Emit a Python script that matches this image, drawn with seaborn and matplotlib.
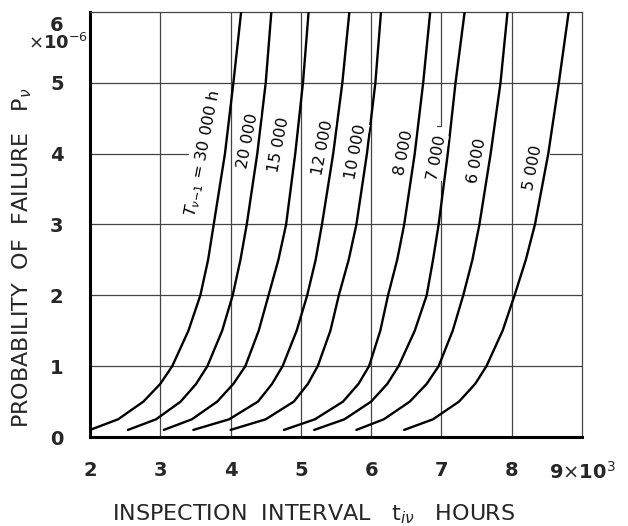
import matplotlib
matplotlib.use("Agg")
import matplotlib.pyplot as plt
import matplotlib.transforms as mtransforms
import seaborn as sns
import pandas as pd

# Probability of failure levels (x 1e-6) at which each curve was read
p_levels = [0.1, 0.25, 0.5, 0.75, 1, 1.5, 2, 2.5, 3, 4, 5, 6]

# Inspection interval (x 1e3 h) reaching each level, one list per service life T
t_30000 = [2.00, 2.40, 2.76, 3.00, 3.17, 3.40, 3.57, 3.68, 3.76, 3.92, 4.04, 4.15]
t_20000 = [2.54, 2.94, 3.29, 3.51, 3.67, 3.88, 4.03, 4.14, 4.23, 4.38, 4.50, 4.58]
t_15000 = [3.05, 3.45, 3.81, 4.04, 4.21, 4.40, 4.54, 4.68, 4.79, 4.92, 5.03, 5.11]
t_12000 = [3.47, 3.98, 4.39, 4.59, 4.74, 4.94, 5.09, 5.21, 5.30, 5.46, 5.59, 5.69]
t_10000 = [4.00, 4.50, 4.90, 5.10, 5.24, 5.42, 5.54, 5.68, 5.79, 5.94, 6.06, 6.14]
t_8000 = [4.76, 5.20, 5.60, 5.82, 5.97, 6.13, 6.24, 6.37, 6.47, 6.62, 6.74, 6.84]
t_7000 = [5.19, 5.62, 6.00, 6.23, 6.39, 6.62, 6.79, 6.88, 6.96, 7.09, 7.20, 7.33]
t_6000 = [5.79, 6.18, 6.55, 6.79, 6.96, 7.16, 7.31, 7.44, 7.54, 7.70, 7.84, 7.94]
t_5000 = [6.47, 6.88, 7.25, 7.48, 7.64, 7.87, 8.04, 8.20, 8.33, 8.52, 8.67, 8.81]

service_lives = [30000, 20000, 15000, 12000, 10000, 8000, 7000, 6000, 5000]
curves = [t_30000, t_20000, t_15000, t_12000, t_10000, t_8000, t_7000, t_6000, t_5000]

curve_labels = [r"$T_{\nu\mathrm{-}1}$ = 30 000 h", "20 000", "15 000", "12 000",
                "10 000", "8 000", "7 000", "6 000", "5 000"]
label_x = [3.61, 4.24, 4.69, 5.31, 5.79, 6.46, 6.93, 7.50, 8.30]
label_y = [4.01, 4.18, 4.13, 4.08, 4.03, 4.01, 3.94, 3.90, 3.80]

x_ticks = [2, 3, 4, 5, 6, 7, 8, 9]
x_ticklabels = ["2", "3", "4", "5", "6", "7", "8", r"9$\times$10$^3$"]
y_ticks = [0, 1, 2, 3, 4, 5, 6]
y_ticklabels = ["0", "1", "2", "3", "4", "5", "6"]

rows = []
for life, ts in zip(service_lives, curves):
    for t, p in zip(ts, p_levels):
        rows.append({"life": life, "t": t, "p": p})
df = pd.DataFrame(rows)

sns.set_theme(style="white")
plt.rcParams["font.family"] = ["DejaVu Sans"]
plt.rcParams["mathtext.fontset"] = "dejavusans"

fig = plt.figure(figsize=(6.28, 5.26), dpi=100)
ax = fig.add_axes([0.1433, 0.1692, 0.7835, 0.808])

grid_kw = dict(color="#444444", lw=0.9, zorder=1)
for xv in [3, 4, 5, 6, 8]:
    ax.axvline(xv, **grid_kw)
# the 7 line is broken around its curve label
ax.plot([7, 7], [0, 3.62], **grid_kw)
ax.plot([7, 7], [4.39, 6], **grid_kw)
ax.plot([6.93, 7.0], [4.39, 4.39], **grid_kw)
for yv in [1, 2, 3, 5]:
    ax.axhline(yv, **grid_kw)
# the 4 line is interrupted by the curve labels
ax.plot([2, 3.4], [4, 4], **grid_kw)
ax.plot([8.54, 9], [4, 4], **grid_kw)

sns.lineplot(data=df, x="t", y="p", hue="life", units="life", estimator=None,
             sort=False, palette=["black"] * len(service_lives), lw=1.7,
             legend=False, ax=ax, zorder=3)
ax.set_xlabel("")
ax.set_ylabel("")

for txt, lx, ly in zip(curve_labels, label_x, label_y):
    ax.text(lx, ly, txt, rotation=79, ha="center", va="center", fontsize=11.5,
            color="black", bbox=dict(facecolor="white", edgecolor="none", pad=0.5),
            zorder=4)

ax.set_xlim(2, 9)
ax.set_ylim(0, 6)
ax.set_xticks(x_ticks)
ax.set_xticklabels(x_ticklabels, fontsize=14, fontweight="bold")
ax.set_yticks(y_ticks)
ax.set_yticklabels(y_ticklabels, fontsize=14, fontweight="bold")
ax.tick_params(axis="both", length=0)
ax.tick_params(axis="x", pad=17)
ax.tick_params(axis="y", pad=19)

# the top tick label sits a little below its line
top_label = ax.get_yticklabels()[-1]
top_label.set_transform(top_label.get_transform() +
                        mtransforms.ScaledTranslation(0, -8 / 72, fig.dpi_scale_trans))

for side in ["top", "right"]:
    ax.spines[side].set_linewidth(0.9)
    ax.spines[side].set_color("#444444")
for side in ["left", "bottom"]:
    ax.spines[side].set_linewidth(2.2)
    ax.spines[side].set_color("black")

fig.text(0.093, 0.918, r"$\times$10$^{-6}$", fontsize=13, fontweight="bold",
         ha="center", va="center")

fig.text(0.50, 0.022, r"INSPECTION  INTERVAL   $\mathrm{t}_{i\nu}$   HOURS",
         fontsize=16, ha="center", va="center")
fig.text(0.035, 0.51, r"PROBABILITY  OF  FAILURE   $\mathrm{P}_{\nu}$",
         fontsize=16, rotation=90, ha="center", va="center")

fig.savefig("out.png", dpi=100, facecolor="white")
